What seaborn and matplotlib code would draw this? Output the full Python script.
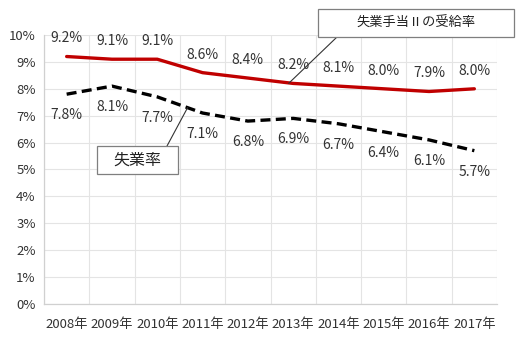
import matplotlib
matplotlib.use("Agg")
import matplotlib.pyplot as plt
from matplotlib.patches import Rectangle
import seaborn as sns
import pandas as pd
import numpy as np

years = ["2008年", "2009年", "2010年", "2011年", "2012年", "2013年", "2014年", "2015年", "2016年", "2017年"]
benefit_rate = [9.2, 9.1, 9.1, 8.6, 8.4, 8.2, 8.1, 8.0, 7.9, 8.0]
unemployment_rate = [7.8, 8.1, 7.7, 7.1, 6.8, 6.9, 6.7, 6.4, 6.1, 5.7]
benefit_label = "失業手当Ⅱの受給率"
unemp_label = "失業率"
yticks = list(range(0, 11))

sns.set_theme(style="white")
plt.rcParams['font.family'] = ['Noto Sans CJK JP', 'DejaVu Sans']

df = pd.DataFrame({
    "year": years * 2,
    "value": benefit_rate + unemployment_rate,
    "series": [benefit_label] * len(years) + [unemp_label] * len(years),
})

W, H = 522, 342
fig = plt.figure(figsize=(W / 100, H / 100), dpi=100)
ax = fig.add_axes([44 / W, 1 - 304 / H, 453 / W, 269 / H])

sns.lineplot(data=df, x="year", y="value", hue="series", style="series",
             palette={benefit_label: "#c00000", unemp_label: "black"},
             dashes={benefit_label: "", unemp_label: (3, 1.6)},
             linewidth=2.4, legend=False, ax=ax, sort=False)

ax.set_xlim(-0.5, len(years) - 0.5)
ax.set_ylim(0, 10)
ax.set_yticks(yticks)
ax.set_yticklabels([f"{v}%" for v in yticks])
ax.set_xticks(range(len(years)))
ax.set_xticklabels(years)
ax.set_xticks(np.arange(-0.5, len(years), 1.0), minor=True)
ax.set_xlabel("")
ax.set_ylabel("")
ax.grid(True, axis="y", which="major", color="#e4e4e4", linewidth=0.8)
ax.grid(True, axis="x", which="minor", color="#e4e4e4", linewidth=0.8)
ax.set_axisbelow(True)
ax.tick_params(axis="both", which="both", length=0, labelsize=9.5, colors="#333333")
ax.tick_params(axis="x", pad=10)
ax.tick_params(axis="y", pad=6)
for s in ["top", "right"]:
    ax.spines[s].set_visible(False)
for s in ["left", "bottom"]:
    ax.spines[s].set_color("#d0d0d0")
    ax.spines[s].set_linewidth(0.9)

for i, v in enumerate(benefit_rate):
    ax.annotate(f"{v:.1f}%", (i, v), xytext=(0, 13), textcoords="offset points",
                ha="center", va="center", fontsize=10, color="#333333")
for i, v in enumerate(unemployment_rate):
    ax.annotate(f"{v:.1f}%", (i, v), xytext=(0, -15), textcoords="offset points",
                ha="center", va="center", fontsize=10, color="#333333")


def fx(px):
    return px / W


def fy(py):
    return 1 - py / H


# callout boxes (pixel geometry of the reference)
for (x0, y0, x1, y1), label, fs, start, target in [
    ((318, 9, 514, 37), benefit_label, 9.5, (337, 37), (4.9, 8.2)),
    ((97, 146, 178, 174), unemp_label, 11.5, (167, 146), (2.67, 7.3)),
]:
    ax.annotate("", xy=target, xycoords="data",
                xytext=(fx(start[0]), fy(start[1])), textcoords="figure fraction",
                arrowprops=dict(arrowstyle="-", color="#333333", lw=0.8,
                                shrinkA=0, shrinkB=0), zorder=5)
    fig.patches.append(Rectangle((fx(x0), fy(y1)), fx(x1) - fx(x0), fy(y0) - fy(y1),
                                 transform=fig.transFigure, fc="white", ec="#7f7f7f",
                                 lw=0.9, zorder=6))
    fig.text(fx((x0 + x1) / 2), fy((y0 + y1) / 2), label, ha="center", va="center",
             fontsize=fs, color="#222222", zorder=7)

fig.savefig("out.png", dpi=100)
